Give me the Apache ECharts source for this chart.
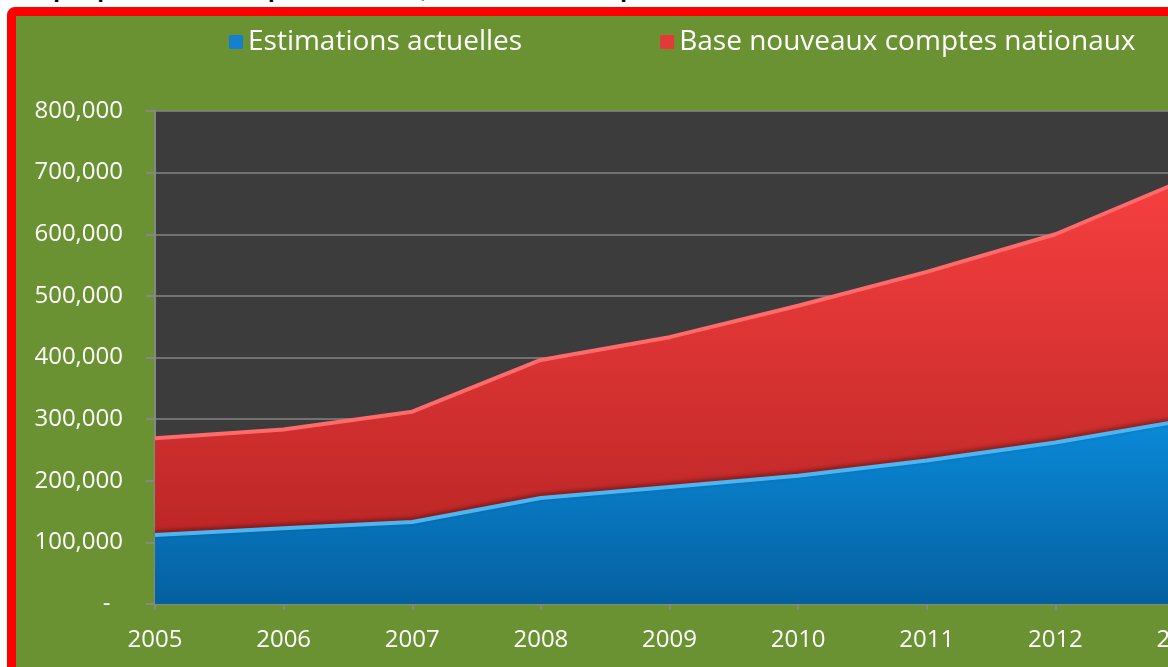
<!DOCTYPE html>
<html style='height: 100%'>
<head>
    <meta charset='utf-8'>
    <script src="https://cdn.jsdelivr.net/npm/echarts@6/dist/echarts.min.js"></script>
</head>
<body style='height: 100%; margin: 0; background: #fff; overflow: hidden; position: relative'>
    <div id='title' style='position: absolute; left: 12px; top: -25px; font: bold 24px "Liberation Sans", sans-serif; color: #000; white-space: nowrap'>Graphique 3 : PIB aux prix courants, deux bases comparés</div>
    <div id='frame' style='position: absolute; left: 7px; top: 7px; width: 1220px; height: 720px; border: 9px solid #ff0000; border-radius: 8px; background: #6a9232'>
        <div id='container' style='position: absolute; left: 0; top: 0; width: 1220px; height: 720px'></div>
    </div>
    <script type="text/javascript">
var years = ['2005', '2006', '2007', '2008', '2009', '2010', '2011', '2012', '2013'];
var estimations = [112000, 123000, 133000, 172000, 190000, 208000, 233000, 262000, 298000];
var nouvelleBase = [269000, 283000, 312000, 396000, 433000, 484000, 539000, 600000, 688000];
var yTicks = [0, 100000, 200000, 300000, 400000, 500000, 600000, 700000, 800000];

function fmt(v) {
    if (v === 0) return '-  ';
    return String(v).replace(/\B(?=(\d{3})+(?!\d))/g, ',');
}

var dom = document.getElementById("container");
var myChart = echarts.init(dom);
var font = '"Open Sans", sans-serif';
option = {
    animation: false,
    legend: {
        left: 208,
        top: 7,
        itemWidth: 14,
        itemHeight: 14,
        itemGap: 138,
        icon: 'rect',
        textStyle: { color: '#fff', fontSize: 28, fontFamily: font },
        data: ['Estimations actuelles', 'Base nouveaux comptes nationaux']
    },
    grid: {
        left: 139,
        top: 95,
        width: 1029,
        height: 493,
        show: true,
        backgroundColor: '#3c3c3c',
        borderWidth: 0
    },
    xAxis: {
        type: 'category',
        boundaryGap: false,
        data: years,
        axisLine: { lineStyle: { color: '#878787', width: 2 } },
        axisTick: { show: true, length: 6, lineStyle: { color: '#878787', width: 2 } },
        axisLabel: { color: '#fff', fontSize: 24, fontFamily: font, margin: 24 }
    },
    yAxis: {
        type: 'value',
        min: yTicks[0],
        max: yTicks[yTicks.length - 1],
        interval: 100000,
        axisLine: { show: true, lineStyle: { color: '#878787', width: 2 } },
        axisTick: { show: true, length: 9, lineStyle: { color: '#878787', width: 2 } },
        axisLabel: { color: '#fff', fontSize: 24, fontFamily: font, margin: 32, formatter: fmt },
        splitLine: { lineStyle: { color: '#858585', width: 1.5 } }
    },
    series: [
        {
            name: 'Estimations actuelles',
            type: 'line',
            data: estimations,
            symbol: 'none',
            z: 4,
            itemStyle: { color: '#1580d0' },
            lineStyle: { color: '#4cb6f2', width: 4, shadowColor: 'rgba(0,0,0,0.45)', shadowBlur: 4, shadowOffsetY: -2 },
            areaStyle: {
                opacity: 1,
                color: new echarts.graphic.LinearGradient(0, 0, 0, 1, [
                    { offset: 0, color: '#0b8ad9' },
                    { offset: 1, color: '#04609f' }
                ])
            }
        },
        {
            name: 'Base nouveaux comptes nationaux',
            type: 'line',
            data: nouvelleBase,
            symbol: 'none',
            z: 3,
            itemStyle: { color: '#e23a38' },
            lineStyle: { color: '#ff6b6b', width: 4 },
            areaStyle: {
                opacity: 1,
                color: new echarts.graphic.LinearGradient(0, 0, 0, 1, [
                    { offset: 0, color: '#f63f3f' },
                    { offset: 1, color: '#b22222' }
                ])
            }
        }
    ]
};
myChart.setOption(option, true);
    </script>
</body>
</html>
